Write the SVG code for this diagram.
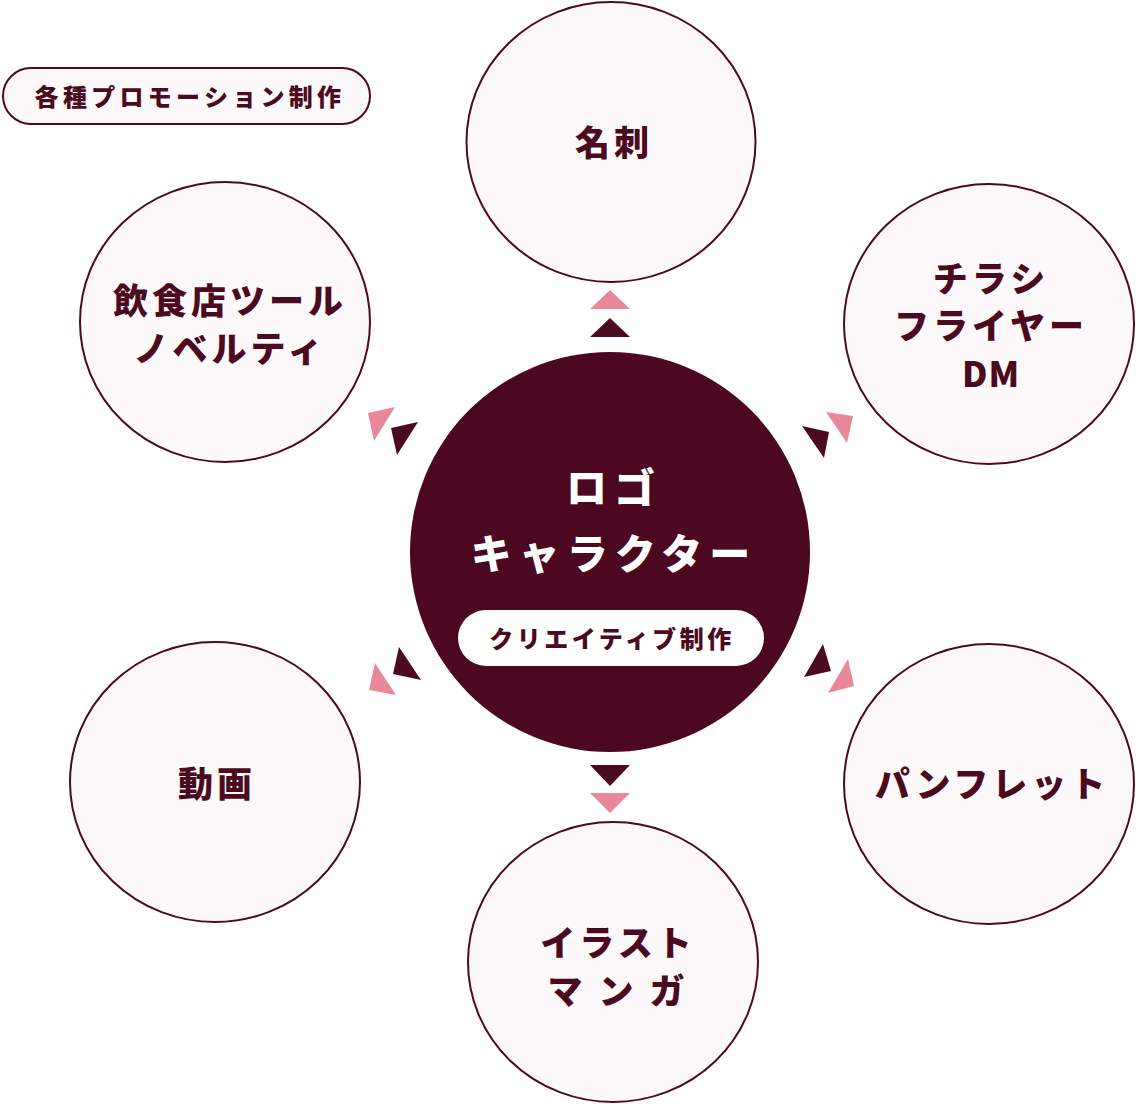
<svg xmlns="http://www.w3.org/2000/svg" width="1138" height="1104" viewBox="0 0 1138 1104">
<style>
.node{fill:#fdf8fa;stroke:#4b0a20;stroke-width:2}
.t{font-family:"Noto Sans CJK JP","Noto Sans",sans-serif;font-weight:900;fill:#4b0a20;text-anchor:middle;dominant-baseline:central}
.big{font-size:35px;letter-spacing:4px}
.w{fill:#ffffff}
.dark{fill:#4b0a20}
.pink{fill:#e8889a}
</style>
<rect width="1138" height="1104" fill="#ffffff"/>
<g id="label-promo">
<rect x="3" y="68" width="367" height="56" rx="28" class="node"/>
<text x="190" y="95" class="t" font-size="24" letter-spacing="4.3">各種プロモーション制作</text>
</g>
<g id="node-meishi">
<ellipse cx="611" cy="142" rx="144.5" ry="140" class="node"/>
<text x="614" y="140" class="t big">名刺</text>
</g>
<g id="node-inshokuten">
<ellipse cx="225" cy="322" rx="145" ry="140" class="node"/>
<text class="t big" font-size="36"><tspan x="230" y="298">飲食店ツール</tspan><tspan x="230" y="346">ノベルティ</tspan></text>
</g>
<g id="node-chirashi">
<ellipse cx="989" cy="324" rx="145" ry="140" class="node"/>
<text class="t big"><tspan x="991" y="276">チラシ</tspan><tspan x="991" y="323">フライヤー</tspan><tspan x="991" y="371" letter-spacing="1">DM</tspan></text>
</g>
<g id="node-douga">
<ellipse cx="215" cy="782" rx="145" ry="140" class="node"/>
<text x="217" y="781" class="t big">動画</text>
</g>
<g id="node-pamphlet">
<ellipse cx="989" cy="784" rx="145" ry="140" class="node"/>
<text x="992" y="781" class="t big">パンフレット</text>
</g>
<g id="node-illust">
<ellipse cx="613" cy="962" rx="145" ry="140" class="node"/>
<text class="t big"><tspan x="618" y="940">イラスト</tspan><tspan x="618" y="988">マ ン ガ</tspan></text>
</g>
<g id="node-logo">
<circle cx="610" cy="552" r="200" fill="#4b0820"/>
<text class="t w" font-size="41" letter-spacing="7"><tspan x="614" y="485">ロゴ</tspan><tspan x="614" y="551">キャラクター</tspan></text>
<rect x="458" y="610" width="306" height="56" rx="28" fill="#ffffff"/>
<text x="612" y="637" class="t" font-size="24" letter-spacing="3.5">クリエイティブ制作</text>
</g>
<g id="connectors">
<polygon class="pink" points="590,309 610,290 630,309"/>
<polygon class="dark" points="590,337 610,318 630,337"/>
<polygon class="dark" points="590,765 630,765 610,786"/>
<polygon class="pink" points="590,793 630,793 610,813"/>
<polygon class="pink" points="368,413 395,407 374,441"/>
<polygon class="dark" points="391,428 418,422 397,455"/>
<polygon class="dark" points="802,426 829,432 824,458"/>
<polygon class="pink" points="826,412 853,416 847,443"/>
<polygon class="dark" points="399,647 393,674 421,680"/>
<polygon class="pink" points="375,663 369,690 396,695"/>
<polygon class="dark" points="823,644 831,671 804,677"/>
<polygon class="pink" points="848,659 854,686 828,693"/>
</g>
</svg>
